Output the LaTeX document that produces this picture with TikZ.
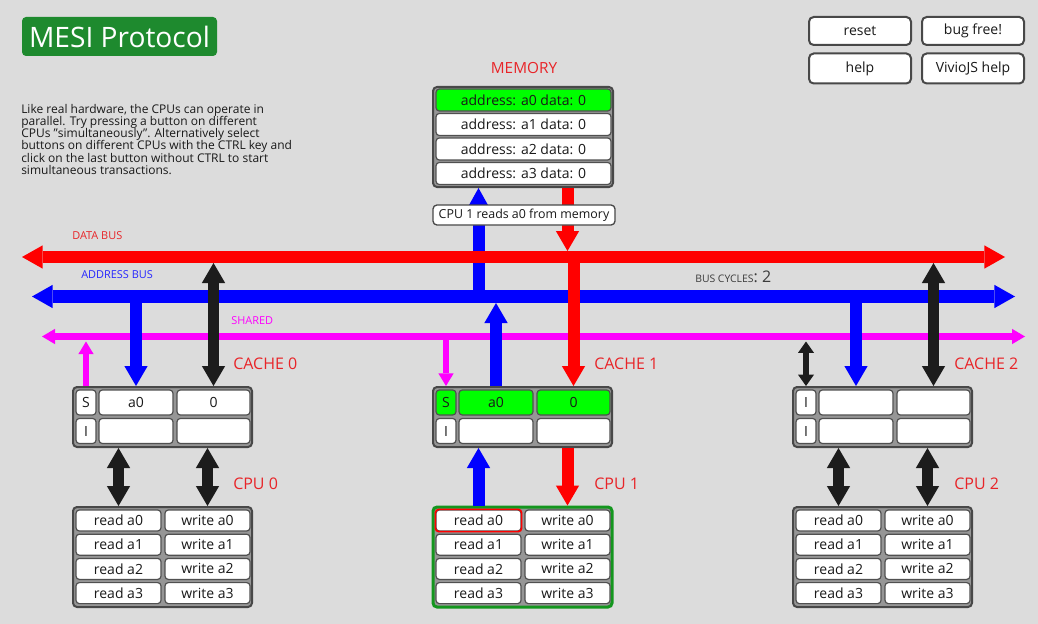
\documentclass[tikz,border=0pt]{standalone}
\usepackage{fontspec}
\setmainfont{Open Sans}
\usetikzlibrary{arrows.meta,calc}
\definecolor{bgc}{RGB}{220,220,220}
\definecolor{titlegreen}{RGB}{30,138,46}
\definecolor{lblred}{RGB}{232,36,40}
\definecolor{busred}{RGB}{255,0,0}
\definecolor{busblue}{RGB}{0,0,255}
\definecolor{busmag}{RGB}{255,0,255}
\definecolor{blk}{RGB}{28,28,28}
\definecolor{lime}{RGB}{0,255,0}
\definecolor{boxline}{RGB}{72,72,72}
\definecolor{boxfill}{RGB}{150,150,150}
\definecolor{cellline}{RGB}{80,80,80}
\definecolor{txt}{RGB}{25,25,25}
\definecolor{cpugreen}{RGB}{20,150,30}
\newcommand{\fsz}[2]{\fontsize{#1}{#2}\selectfont}
\tikzset{
 outerbox/.style={draw=boxline, fill=boxfill, line width=1.5pt, rounded corners=3pt, inner sep=0pt},
 cell/.style={draw=cellline, fill=white, line width=0.9pt, rounded corners=2.5pt, inner sep=0pt, text=txt, font=\fsz{10.5}{12}},
 btn/.style={draw=boxline, fill=white, line width=1.5pt, rounded corners=3.5pt, inner sep=0pt, minimum width=76.5pt, text=txt, font=\fsz{10.5}{12}},
 lbl/.style={inner sep=0pt, anchor=west, text=lblred, font=\fsz{12}{14}},
 buslbl/.style={inner sep=0pt, anchor=west, font=\fsz{8.2}{10}},
 bigbus/.style={line width=9pt, {Triangle[width=17.5pt,length=15.5pt,line width=0pt]}-{Triangle[width=17.5pt,length=15.5pt,line width=0pt]}},
 shbus/.style={line width=5.25pt, {Triangle[width=11.5pt,length=9.75pt,line width=0pt]}-{Triangle[width=11.5pt,length=9.75pt,line width=0pt]}},
 fat/.style={line width=9pt, -{Triangle[width=17.5pt,length=15pt,line width=0pt]}},
 fatnarrow/.style={line width=9pt, -{Triangle[width=15pt,length=13.5pt,line width=0pt]}},
 fatboth/.style={line width=8.5pt, {Triangle[width=17.5pt,length=15pt,line width=0pt]}-{Triangle[width=17.5pt,length=15pt,line width=0pt]}},
 slim/.style={line width=5pt, -{Triangle[width=11.5pt,length=9.5pt,line width=0pt]}},
 slimboth/.style={line width=4.5pt, {Triangle[width=12pt,length=8.5pt,line width=0pt]}-{Triangle[width=12pt,length=8.5pt,line width=0pt]}},
}
\begin{document}
\begin{tikzpicture}[x=0.75pt,y=-0.75pt]
\fill[bgc] (0,0) rectangle (1038,624);
\useasboundingbox (0,0) rectangle (1038,624);

% title and buttons
\node[fill=titlegreen, rounded corners=3pt, minimum width=146.25pt, minimum height=29.25pt, inner sep=0pt, text=white, font=\fsz{21.1}{24}] (title) at (119.5,36.5) {MESI Protocol};
\node[btn, minimum height=21pt] (reset) at (860,31) {reset};
\node[btn, minimum height=21pt] (bugfree) at (973,31) {bug free!};
\node[btn, minimum height=22.5pt] (help) at (860,68.5) {help};
\node[btn, minimum height=22.5pt] (vhelp) at (973,68.5) {VivioJS help};

% info text
\node[anchor=north west, inner sep=0pt, align=left, text=txt, font=\fsz{9}{9.15}] (info) at (21,104) {Like real hardware, the CPUs can operate in\\parallel. Try pressing a button on different\\CPUs "simultaneously". Alternatively select\\buttons on different CPUs with the CTRL key and\\click on the last button without CTRL to start\\simultaneous transactions.};

% memory
\node[text=lblred, font=\fsz{11.5}{13}, inner sep=0pt] (memlbl) at (524,68) {MEMORY};
\node[outerbox, minimum width=135pt, minimum height=75pt] (mem) at (523,137) {};
\node[cell, fill=lime, minimum width=131.25pt, minimum height=16.5pt] (m0) at (523.5,100) {address: a0 data: 0};
\node[cell, minimum width=131.25pt, minimum height=16.5pt] (m1) at (523.5,124.5) {address: a1 data: 0};
\node[cell, minimum width=131.25pt, minimum height=16.5pt] (m2) at (523.5,149) {address: a2 data: 0};
\node[cell, minimum width=131.25pt, minimum height=16.5pt] (m3) at (523.5,173.5) {address: a3 data: 0};

% bus coordinates
\coordinate (dbL) at (22,257);   \coordinate (dbR) at (1005,257);
\coordinate (abL) at (32,296.5); \coordinate (abR) at (1015,296.5);
\coordinate (shL) at (42,336.5); \coordinate (shR) at (1025,336.5);
\coordinate (abm) at (478.5,296.5);
\coordinate (dbm) at (567.5,251);

% memory address connector (under data bus)
\draw[fatnarrow, busblue] (abm) -- (abm |- mem.south);

% buses
\draw[bigbus, busred] (dbL) -- (dbR);
\draw[bigbus, line width=9.5pt, busblue] (abL) -- (abR);
\draw[shbus, busmag] (shL) -- (shR);

% caches
\foreach \i/\ox in {0/0,1/360,2/720}{
  \node[outerbox, minimum width=134.25pt, minimum height=45pt] (cache\i) at (162.5+\ox,417) {};
}
\node[cell, minimum width=15pt, minimum height=18.75pt] (c0s0) at (86,402.5) {S};
\node[cell, minimum width=55.5pt, minimum height=18.75pt] (c0a0) at (136,402.5) {a0};
\node[cell, minimum width=54.75pt, minimum height=18.75pt] (c0d0) at (213.5,402.5) {0};
\node[cell, minimum width=15pt, minimum height=18.75pt] (c0s1) at (86,431) {I};
\node[cell, minimum width=55.5pt, minimum height=18.75pt] (c0a1) at (136,431) {};
\node[cell, minimum width=54.75pt, minimum height=18.75pt] (c0d1) at (213.5,431) {};

\node[cell, fill=lime, minimum width=15pt, minimum height=18.75pt] (c1s0) at (446,402.5) {S};
\node[cell, fill=lime, minimum width=55.5pt, minimum height=18.75pt] (c1a0) at (496,402.5) {a0};
\node[cell, fill=lime, minimum width=54.75pt, minimum height=18.75pt] (c1d0) at (573.5,402.5) {0};
\node[cell, minimum width=15pt, minimum height=18.75pt] (c1s1) at (446,431) {I};
\node[cell, minimum width=55.5pt, minimum height=18.75pt] (c1a1) at (496,431) {};
\node[cell, minimum width=54.75pt, minimum height=18.75pt] (c1d1) at (573.5,431) {};

\node[cell, minimum width=15pt, minimum height=18.75pt] (c2s0) at (806,402.5) {I};
\node[cell, minimum width=55.5pt, minimum height=18.75pt] (c2a0) at (856,402.5) {};
\node[cell, minimum width=54.75pt, minimum height=18.75pt] (c2d0) at (933.5,402.5) {};
\node[cell, minimum width=15pt, minimum height=18.75pt] (c2s1) at (806,431) {I};
\node[cell, minimum width=55.5pt, minimum height=18.75pt] (c2a1) at (856,431) {};
\node[cell, minimum width=54.75pt, minimum height=18.75pt] (c2d1) at (933.5,431) {};

% cpus
\node[outerbox, minimum width=134.25pt, minimum height=75pt] (cpu0) at (162.5,557) {};
\node[outerbox, draw=cpugreen, line width=2.25pt, minimum width=134.25pt, minimum height=75pt] (cpu1) at (522.5,557) {};
\node[outerbox, minimum width=134.25pt, minimum height=75pt] (cpu2) at (882.5,557) {};
\foreach \i/\ox in {0/0,1/360,2/720}{
  \foreach \r/\y in {0/520.5,1/544.7,2/568.9,3/593.1}{
    \node[cell, minimum width=63.75pt, minimum height=15.75pt] (p\i-r\r) at (118.5+\ox,\y) {read a\r};
    \node[cell, minimum width=63.75pt, minimum height=15.75pt] (p\i-w\r) at (207.5+\ox,\y) {write a\r};
  }
}
\draw[busred, line width=1.2pt, rounded corners=2.5pt] (p1-r0.south west) rectangle (p1-r0.north east);

% bus tap coordinates
\coordinate (sh0) at (86,341.5);
\coordinate (ab0) at (136,296.5);
\coordinate (db0) at (213.5,263);
\coordinate (sh1) at (446,336.5);
\coordinate (ab1) at (496,303);
\coordinate (db1) at (573.5,257);
\coordinate (sh2) at (806,341.5);
\coordinate (ab2) at (856,296.5);
\coordinate (db2) at (933.5,263);

% cache 0 connectors
\draw[slim, busmag] (cache0.north -| sh0) -- (sh0);
\draw[fat, busblue] (ab0) -- (cache0.north -| ab0);
\draw[fatboth, blk] (db0) -- (cache0.north -| db0);
\draw[fatboth, blk] (cache0.south -| p0-r0) -- (p0-r0 |- cpu0.north);
\draw[fatboth, blk] (cache0.south -| p0-w0) -- (p0-w0 |- cpu0.north);

% cache 1 connectors
\draw[slim, busmag] (sh1) -- (cache1.north -| sh1);
\draw[fat, busblue] (cache1.north -| ab1) -- (ab1);
\draw[fat, busred] (db1) -- (cache1.north -| db1);
\draw[fat, busblue] (p1-r0 |- cpu1.north) -- (cache1.south -| p1-r0);
\draw[fat, busred] (cache1.south -| p1-w0) -- (p1-w0 |- cpu1.north);
\draw[fat, busred] (mem.south -| dbm) -- (dbm);

% cache 2 connectors
\draw[slimboth, blk] (sh2) -- (cache2.north -| sh2);
\draw[fat, busblue] (ab2) -- (cache2.north -| ab2);
\draw[fatboth, blk] (db2) -- (cache2.north -| db2);
\draw[fatboth, blk] (cache2.south -| p2-r0) -- (p2-r0 |- cpu2.north);
\draw[fatboth, blk] (cache2.south -| p2-w0) -- (p2-w0 |- cpu2.north);

% transaction note
\node[draw=boxline, fill=white, line width=1pt, rounded corners=3pt, minimum width=136.5pt, minimum height=15pt, inner sep=0pt, font=\fsz{9.3}{11}, text=txt] (note) at (524,215) {CPU 1 reads a0 from memory};

% bus labels
\node[buslbl, text=lblred] (dblbl) at (72,235.5) {DATA BUS};
\node[buslbl, text=busblue!85!white] (ablbl) at (81,274.5) {ADDRESS BUS};
\node[buslbl, text=busmag] (shlbl) at (231,320.5) {SHARED};
\node[inner sep=0pt, anchor=base west, text=txt!85!white] (cycles) at (695,282) {{\fsz{7.8}{9}BUS CYCLES}{\fsz{12}{14}: 2}};

% cache and cpu labels
\node[lbl] (cl0) at (233,363.5) {CACHE 0};
\node[lbl] (cl1) at (594,363.5) {CACHE 1};
\node[lbl] (cl2) at (954,363.5) {CACHE 2};
\node[lbl] (pl0) at (233,483.5) {CPU 0};
\node[lbl] (pl1) at (594,483.5) {CPU 1};
\node[lbl] (pl2) at (954,483.5) {CPU 2};
\end{tikzpicture}
\end{document}
